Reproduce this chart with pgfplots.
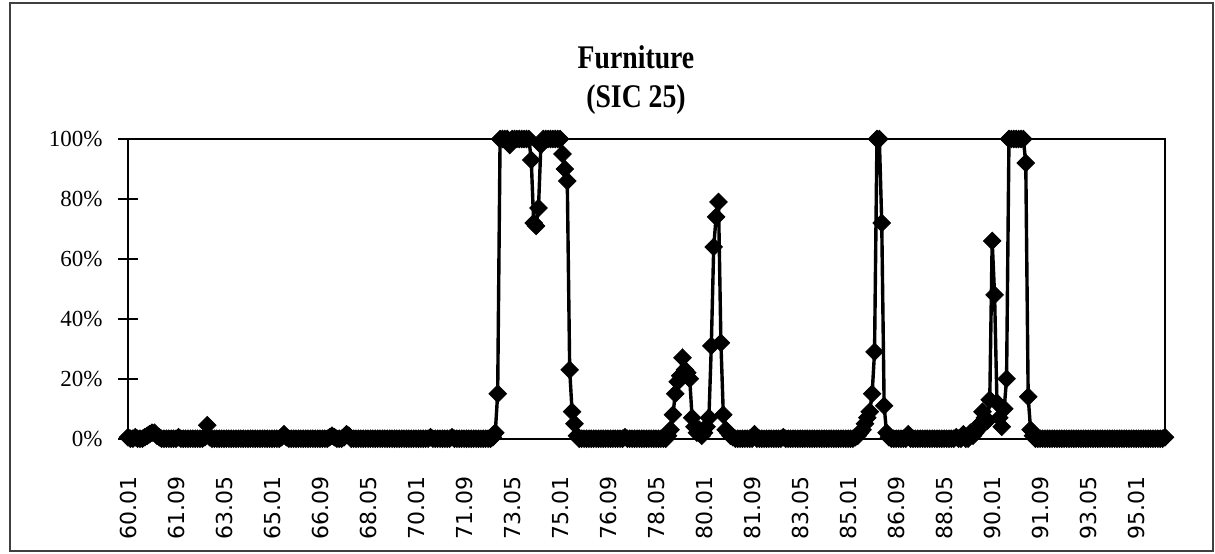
\documentclass[border=0pt]{standalone}
\usepackage{fontspec}
\setmainfont{Liberation Serif}
\newfontfamily\titlefont[FakeStretch=0.84]{Liberation Serif}
\newfontfamily\xfont{DejaVu Sans}
\usepackage{pgfplots}
\pgfplotsset{compat=1.18}
\usepackage{pgfplotstable}

% monthly values, 1960.01 ... 1996.01 (one row per value, 12 per line = one year)
\pgfplotstableread[row sep=\\]{
v\\
0.5\\0\\0\\0.5\\0\\0\\0\\0.5\\1\\1.5\\2\\2\\
1\\0.5\\0\\0\\0\\0\\0\\0\\0\\0.5\\0\\0\\
0\\0\\0\\0\\0\\0\\0\\0\\0.5\\4.5\\0.5\\0\\
0\\0\\0\\0\\0\\0\\0\\0\\0\\0\\0\\0\\
0\\0\\0\\0\\0\\0\\0\\0\\0\\0\\0\\0\\
0\\0\\0\\0\\0.5\\1.5\\0.5\\0\\0\\0\\0\\0\\
0\\0\\0\\0\\0\\0\\0\\0\\0\\0\\0\\0\\
0.5\\1\\0.5\\0\\0\\0\\0.5\\1.5\\1\\0\\0\\0\\
0\\0\\0\\0\\0\\0\\0\\0\\0\\0\\0\\0\\
0\\0\\0\\0\\0\\0\\0\\0\\0\\0\\0\\0\\
0\\0\\0\\0\\0\\0\\0.5\\0\\0\\0\\0\\0\\
0\\0\\0\\0.5\\0\\0\\0\\0\\0\\0\\0\\0\\
0\\0\\0\\0\\0\\0\\0\\0\\0.5\\2\\15\\100\\
100\\100\\100\\98\\100\\100\\100\\100\\100\\100\\100\\100\\
93\\72\\71\\77\\98\\100\\100\\100\\100\\100\\100\\100\\
100\\95\\90\\86\\23\\9\\5\\1\\0\\0\\0\\0\\
0\\0\\0\\0\\0\\0\\0\\0\\0\\0\\0\\0\\
0\\0\\0\\0.5\\0\\0\\0\\0\\0\\0\\0\\0\\
0\\0\\0\\0\\0\\0\\0\\0\\0\\1\\3\\8\\
15\\19\\21\\27\\23\\22\\20\\7\\4\\2\\3\\1\\
2\\4\\7\\31\\64\\74\\79\\32\\8\\3\\2\\1\\
0.5\\0\\0\\0\\0\\0\\0\\0\\0\\1.5\\0\\0\\
0\\0\\0\\0\\0\\0\\0\\0\\0\\0.5\\0\\0\\
0\\0\\0\\0\\0\\0\\0\\0\\0\\0\\0\\0\\
0\\0\\0\\0\\0\\0\\0\\0\\0\\0\\0\\0\\
0\\0\\0\\0.5\\1\\2\\3\\5\\7\\9\\15\\29\\
100\\100\\72\\11\\2\\0.5\\0\\0\\0\\0\\0\\0\\
0\\1.5\\0\\0\\0\\0\\0\\0\\0\\0\\0\\0\\
0\\0\\0\\0\\0\\0\\0\\0\\0\\0.5\\0\\0\\
1.5\\0\\0\\2\\1\\2\\3\\5\\9\\7\\6\\13\\
66\\48\\12\\7\\4\\10\\20\\100\\100\\100\\100\\100\\
100\\100\\92\\14\\3\\1\\0\\0\\0\\0\\0\\0\\
0\\0\\0\\0\\0\\0\\0\\0\\0\\0\\0\\0\\
0\\0\\0\\0\\0\\0\\0\\0\\0\\0\\0\\0\\
0\\0\\0\\0\\0\\0\\0\\0\\0\\0\\0\\0\\
0\\0\\0\\0\\0\\0\\0\\0\\0\\0\\0\\0\\
0.5\\
}\furn

\begin{document}
\begin{tikzpicture}
\path[use as bounding box] (0,0) rectangle (607.5pt,-276.5pt);
\draw[line width=0.75pt, black!75] (5pt,-1.5pt) rectangle (606.5pt,-275.5pt);
\node[anchor=base, font=\titlefont\bfseries\fontsize{16.5}{18}\selectfont] at (318pt,-34pt) {Furniture};
\node[anchor=base, font=\titlefont\bfseries\fontsize{16.5}{18}\selectfont] at (318pt,-53.5pt) {(SIC 25)};
\begin{axis}[
  scale only axis, width=518.5pt, height=149.85pt,
  anchor=south west, at={(64pt,-219.35pt)},
  xmin=0, xmax=432, ymin=0, ymax=100, clip=false,
  axis line style={line width=1pt, black},
  /pgf/number format/assume math mode=true,
  xtick={0,20,...,420},
  xticklabels={60.01,61.09,63.05,65.01,66.09,68.05,70.01,71.09,73.05,75.01,76.09,78.05,80.01,81.09,83.05,85.01,86.09,88.05,90.01,91.09,93.05,95.01},
  ytick={0,20,40,60,80,100},
  ytick pos=left,
  yticklabel={\pgfmathprintnumber{\tick}\%},
  tick align=center, major tick length=9.5pt,
  xtick style={draw=none},
  ytick style={line width=0.8pt, black},
  yticklabel style={font=\fontsize{11.5}{12}\selectfont, anchor=east},
  yticklabel shift=4.5pt,
  xticklabel style={font=\xfont\fontsize{11}{12}\selectfont, rotate=90, anchor=east},
  xticklabel shift=10.5pt,
]
\addplot[black, line width=1.7pt, mark=square*, mark size=3.1pt,
  mark options={rotate=45, solid, line width=0.4pt, fill=black}]
  table[x expr=\coordindex, y=v] {\furn};
\end{axis}
\end{tikzpicture}
\end{document}
